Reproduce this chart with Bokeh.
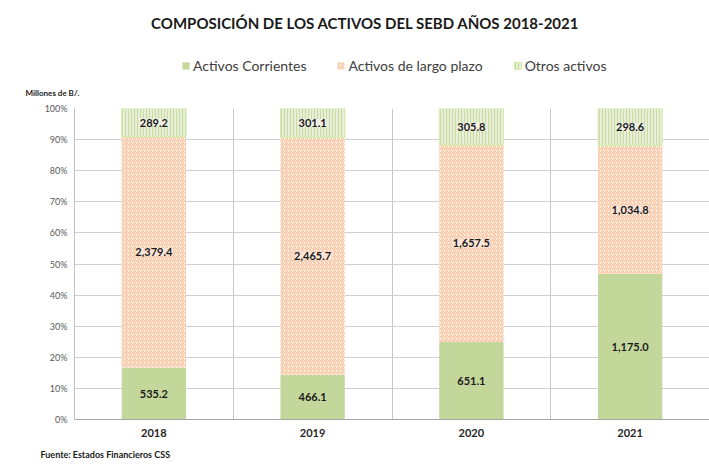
from bokeh.plotting import figure
from bokeh.layouts import column
from bokeh.models import (ColumnDataSource, Range1d, FixedTicker, Legend, LegendItem,
                          LabelSet, Label, Title, NumeralTickFormatter)
from bokeh.core.properties import value
from bokeh.embed import file_html
from bokeh.resources import INLINE

# ---- data ----
years = ["2018", "2019", "2020", "2021"]
corrientes = [535.2, 466.1, 651.1, 1175.0]
largo_plazo = [2379.4, 2465.7, 1657.5, 1034.8]
otros = [289.2, 301.1, 305.8, 298.6]
series_names = ["Activos Corrientes", "Activos de largo plazo", "Otros activos"]
y_ticks = [0.0, 0.1, 0.2, 0.3, 0.4, 0.5, 0.6, 0.7, 0.8, 0.9, 1.0]
title_text = "COMPOSICIÓN DE LOS ACTIVOS DEL SEBD AÑOS 2018-2021"
unit_text = "Millones de B/."
source_text = "Fuente:  Estados Financieros CSS"

FONT = "Lato"
W = 709
HEAD_H = 74
LEFT = 74

totals = [a + b + c for a, b, c in zip(corrientes, largo_plazo, otros)]
xs = [i + 0.5 for i in range(len(years))]
c_top = [a / t for a, t in zip(corrientes, totals)]
l_top = [(a + b) / t for a, b, t in zip(corrientes, largo_plazo, totals)]
o_top = [(a + b + c) / t for a, b, c, t in zip(corrientes, largo_plazo, otros, totals)]

src = ColumnDataSource(dict(
    x=xs, c_top=c_top, l_top=l_top, o_top=o_top,
    c_mid=[t / 2 for t in c_top],
    l_mid=[(a + b) / 2 for a, b in zip(c_top, l_top)],
    o_mid=[(a + b) / 2 for a, b in zip(l_top, o_top)],
    c_lab=[f"{v:,.1f}" for v in corrientes],
    l_lab=[f"{v:,.1f}" for v in largo_plazo],
    o_lab=[f"{v:,.1f}" for v in otros],
))

styles = [
    dict(fill_color="#c4d79b", line_color=None),
    dict(fill_color="white", hatch_pattern="/", hatch_color="#f9caa9",
         hatch_scale=4, hatch_weight=1.6, line_color=None),
    dict(fill_color="#e8efd6", hatch_pattern="|", hatch_color="#c9dba4",
         hatch_scale=3, hatch_weight=1, line_color="#d3eea6"),
]

# ---------------- header (title + legend) ----------------
h = figure(width=W, height=HEAD_H, x_range=Range1d(LEFT, W), y_range=Range1d(HEAD_H, 0),
           x_axis_type=None, y_axis_type=None, output_backend="svg", toolbar_location=None,
           min_border=0, min_border_left=LEFT)
h.outline_line_color = None
h.xgrid.visible = False
h.ygrid.visible = False
h.border_fill_color = "white"

h.add_layout(Label(x=365, y=22, text=title_text, text_font=FONT, text_font_size="15px",
                   text_font_style="bold", text_color="#1a1a1a",
                   text_align="center", text_baseline="middle"))

# legend proxies (off-screen, only used for the legend swatches)
proxy_src = ColumnDataSource(dict(x=[-1000.0], top=[0.0]))
proxy = [h.vbar(x="x", top="top", width=1, source=proxy_src, **s) for s in styles]
legend = Legend(items=[LegendItem(label=n, renderers=[r]) for n, r in zip(series_names, proxy)],
                orientation="horizontal", location=(107, 0), margin=0, padding=4,
                border_line_color=None, background_fill_alpha=0,
                label_text_font=FONT, label_text_font_size="14px", label_text_color="#404040",
                glyph_width=9, glyph_height=9, spacing=30, label_standoff=3)
h.add_layout(legend)

# ---------------- main chart ----------------
p = figure(width=W, height=466 - HEAD_H, x_range=Range1d(0, len(years)), y_range=Range1d(0, 1),
           output_backend="svg", toolbar_location=None,
           min_border_left=LEFT, min_border_right=0, min_border_top=32, min_border_bottom=46)
p.outline_line_color = None
p.background_fill_color = "white"
p.border_fill_color = "white"

bw = 0.405
r1 = p.vbar(x="x", width=bw, bottom=0, top="c_top", source=src, **styles[0])
r2 = p.vbar(x="x", width=bw, bottom="c_top", top="l_top", source=src, **styles[1])
r3 = p.vbar(x="x", width=bw, bottom="l_top", top="o_top", source=src, **styles[2])

common = dict(source=src, x="x", text_font=value(FONT), text_font_size="11px",
              text_font_style="bold", text_color="#1a1a1a",
              text_align="center", text_baseline="middle")
p.add_layout(LabelSet(y="c_mid", text="c_lab", **common))
p.add_layout(LabelSet(y="l_mid", text="l_lab", background_fill_color="#fce4d6",
                      border_line_color=None, **common))
p.add_layout(LabelSet(y="o_mid", text="o_lab", background_fill_color="#eef1e3",
                      border_line_color=None, **common))

# axes
p.yaxis.ticker = FixedTicker(ticks=y_ticks)
p.yaxis.formatter = NumeralTickFormatter(format="0%")
p.yaxis.major_label_text_font = FONT
p.yaxis.major_label_text_font_size = "9px"
p.yaxis.major_label_text_color = "#595959"
p.yaxis.major_tick_out = 0
p.yaxis.major_tick_in = 0
p.yaxis.minor_tick_out = 0
p.yaxis.minor_tick_in = 0
p.yaxis.axis_line_color = "#c0c0c0"
p.yaxis.major_label_standoff = 7

p.xaxis.ticker = FixedTicker(ticks=xs)
p.xaxis.major_label_overrides = {x: y for x, y in zip(xs, years)}
p.xaxis.major_label_text_font = FONT
p.xaxis.major_label_text_font_size = "11px"
p.xaxis.major_label_text_font_style = "bold"
p.xaxis.major_label_text_color = "#262626"
p.xaxis.major_tick_out = 0
p.xaxis.major_tick_in = 0
p.xaxis.minor_tick_out = 0
p.xaxis.minor_tick_in = 0
p.xaxis.axis_line_color = "#a6a6a6"
p.xaxis.major_label_standoff = 9

p.ygrid.ticker = FixedTicker(ticks=y_ticks)
p.ygrid.grid_line_color = "#cfcfcf"
p.xgrid.ticker = FixedTicker(ticks=[i for i in range(1, len(years))])
p.xgrid.grid_line_color = "#c8c8c8"

p.add_layout(Title(text=unit_text, align="left", offset=25 - LEFT, standoff=22,
                   text_font=FONT, text_font_size="8px", text_font_style="bold",
                   text_color="#1a1a1a"), "above")
p.add_layout(Title(text=source_text, align="left", offset=-34, standoff=14,
                   text_font=FONT, text_font_size="9px", text_font_style="bold",
                   text_color="#1a1a1a"), "below")

layout = column(h, p, spacing=0)
open("out.html", "w").write(file_html(layout, INLINE))
